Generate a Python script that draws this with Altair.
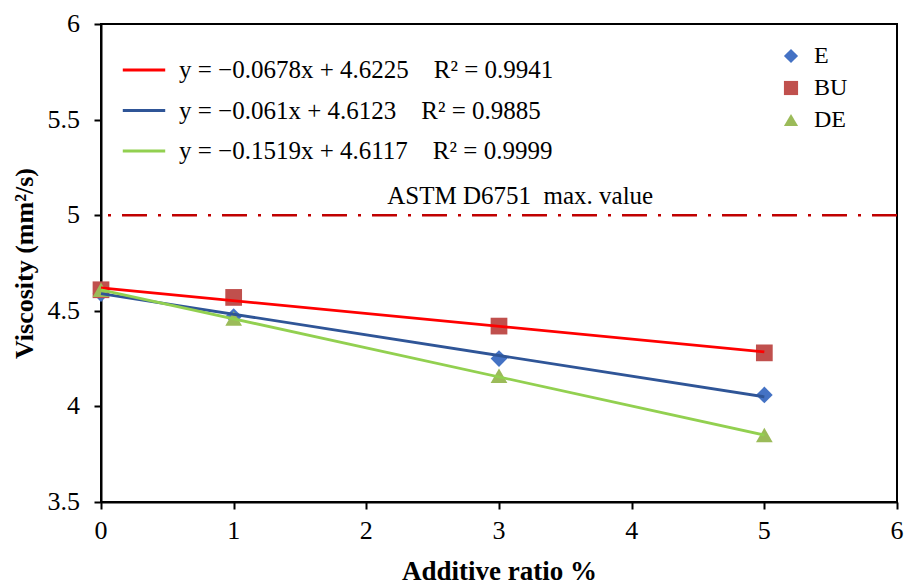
import altair as alt
import pandas as pd

# Measured points
additive = [0, 1, 3, 5]
series_names = ["E", "BU", "DE"]
visc_E = [4.59, 4.47, 4.25, 4.06]
visc_BU = [4.61, 4.57, 4.42, 4.28]
visc_DE = [4.61, 4.46, 4.16, 3.85]

# Trend-line end points (as drawn)
trend_x = [0, 5]
trend_BU = [4.62, 4.285]
trend_E = [4.59, 4.05]
trend_DE = [4.61, 3.85]
equations = [
    "y = −0.0678x + 4.6225\u2003R² = 0.9941",
    "y = −0.061x + 4.6123\u2003R² = 0.9885",
    "y = −0.1519x + 4.6117\u2003R² = 0.9999",
]
astm_limit = 5
astm_label = "ASTM D6751\u00a0\u00a0max. value"

# Tick labels
x_ticks = [0, 1, 2, 3, 4, 5, 6]
x_tick_labels = ["0", "1", "2", "3", "4", "5", "6"]
y_ticks = [3.5, 4, 4.5, 5, 5.5, 6]
y_tick_labels = ["3.5", "4", "4.5", "5", "5.5", "6"]

pts = pd.DataFrame({
    "x": additive * 3,
    "v": visc_E + visc_BU + visc_DE,
    "s": ["E"] * 4 + ["BU"] * 4 + ["DE"] * 4,
})
lines = pd.DataFrame({
    "x": trend_x * 3,
    "v": trend_BU + trend_E + trend_DE,
    "eq": [equations[0]] * 2 + [equations[1]] * 2 + [equations[2]] * 2,
})
limit = pd.DataFrame({"v": [astm_limit]})
xt = pd.DataFrame({"t": x_ticks, "lab": x_tick_labels})
yt = pd.DataFrame({"t": y_ticks, "lab": y_tick_labels})

FONT = "Liberation Serif"

xscale = alt.Scale(domain=[0, 6], nice=False)
yscale = alt.Scale(domain=[3.5, 6], nice=False)

xaxis = alt.Axis(values=x_ticks, labels=False, title="Additive ratio %",
                 titleFontSize=27, titlePadding=48)
yaxis = alt.Axis(values=y_ticks, labels=False, title="Viscosity (mm²/s)",
                 titleFontSize=26, titlePadding=56)

rule = alt.Chart(limit).mark_rule(color="#C00000", strokeWidth=2.5,
                                  strokeDash=[25, 11, 3, 11]).encode(
    y=alt.Y("v:Q", scale=yscale, axis=yaxis))

label = alt.Chart(limit).mark_text(font=FONT, fontSize=25, color="black",
                                   baseline="bottom", align="center").encode(
    x=alt.datum(3.16, scale=xscale),
    y=alt.Y("v:Q", scale=yscale),
    text=alt.value(astm_label),
    yOffset=alt.value(-6))

xlabels = alt.Chart(xt).mark_text(font=FONT, fontSize=26, color="black",
                                  baseline="middle", align="center").encode(
    x=alt.X("t:Q", scale=xscale, axis=xaxis),
    y=alt.datum(3.5, scale=yscale),
    yOffset=alt.value(29),
    text="lab:N")

ylabels = alt.Chart(yt).mark_text(font=FONT, fontSize=26, color="black",
                                  baseline="middle", align="right").encode(
    y=alt.Y("t:Q", scale=yscale, axis=yaxis),
    x=alt.datum(0, scale=xscale),
    xOffset=alt.value(-21),
    text="lab:N")

trend = alt.Chart(lines).mark_line(strokeWidth=2.8).encode(
    x=alt.X("x:Q", scale=xscale, axis=xaxis),
    y=alt.Y("v:Q", scale=yscale, axis=yaxis),
    stroke=alt.Stroke("eq:N", sort=equations,
                      scale=alt.Scale(domain=equations,
                                      range=["#FF0000", "#2F5597", "#92D050"]),
                      legend=alt.Legend(title=None, orient="none", legendX=20, legendY=23,
                                        symbolType="stroke", symbolStrokeWidth=3,
                                        symbolSize=1800, labelFontSize=25,
                                        labelFont=FONT,
                                        rowPadding=4.5, labelOffset=12, labelLimit=700)),
)

shape_legend = alt.Legend(title=None, orient="none", legendX=678, legendY=20,
                          labelFont=FONT, labelFontSize=24, symbolSize=200,
                          rowPadding=8, labelOffset=11)

points = alt.Chart(pts).mark_point(filled=True, size=280, opacity=1).encode(
    x=alt.X("x:Q", scale=xscale, axis=xaxis),
    y=alt.Y("v:Q", scale=yscale, axis=yaxis),
    color=alt.Color("s:N", sort=series_names,
                    scale=alt.Scale(domain=series_names,
                                    range=["#4472C4", "#C0504D", "#9BBB59"]),
                    legend=shape_legend),
    shape=alt.Shape("s:N", sort=series_names,
                    scale=alt.Scale(domain=series_names,
                                    range=["diamond", "square", "triangle-up"]),
                    legend=shape_legend),
)

chart = alt.layer(rule, label, xlabels, ylabels, points, trend).properties(
    width=796, height=478,
    autosize=alt.AutoSizeParams(type="none"),
    padding={"left": 101, "top": 24, "right": 11, "bottom": 82},
    background="white",
).configure_view(stroke="black", strokeWidth=2
).configure_axis(
    grid=False, titleFont=FONT, titleFontWeight="bold", titleColor="black",
    domainColor="black", domainWidth=2, tickColor="black", tickWidth=2, tickSize=7,
).configure_legend(
    labelFont=FONT, labelColor="black",
)

chart.save("out.html", embed_options={"renderer": "svg", "actions": False})
